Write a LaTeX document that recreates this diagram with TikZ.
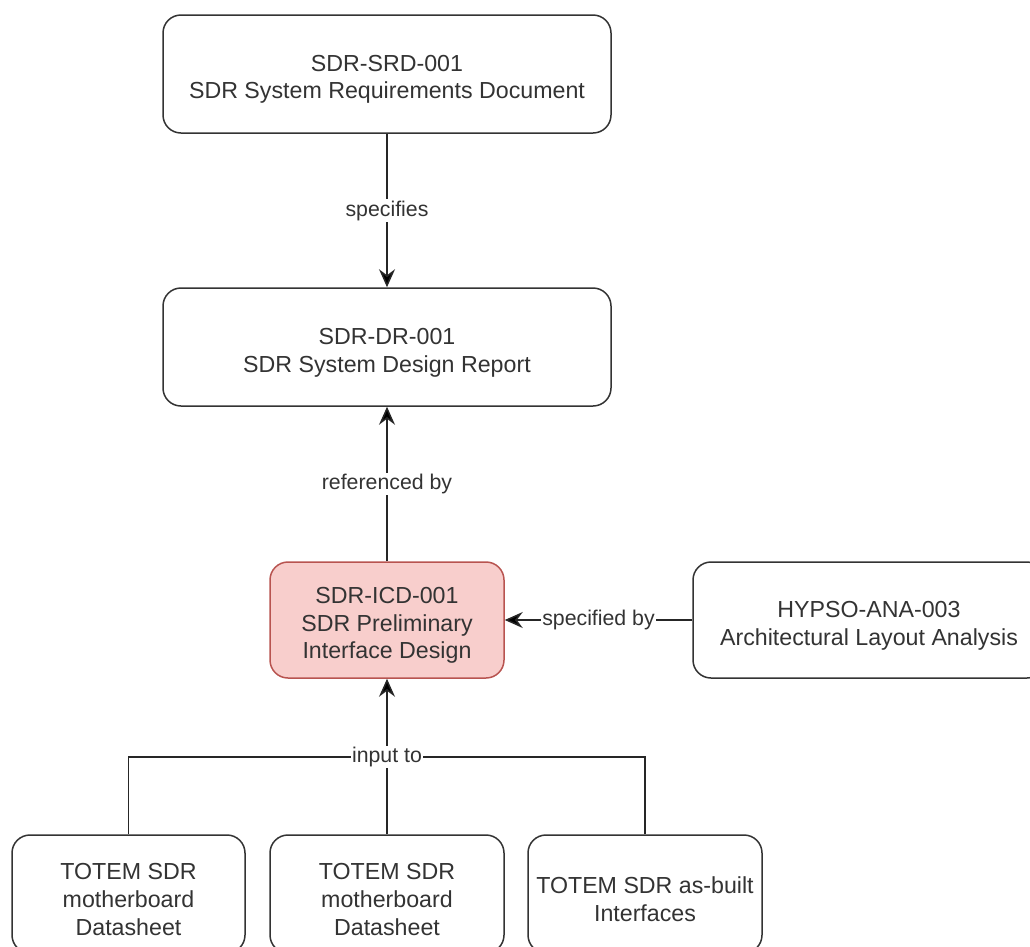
\documentclass[tikz,border=0pt]{standalone}
\usepackage{fontspec}
\setmainfont{Liberation Sans}
\usetikzlibrary{arrows.meta}
\definecolor{ink}{HTML}{333333}
\definecolor{pinkfill}{HTML}{F8CECC}
\definecolor{pinkline}{HTML}{B85450}
\newcommand{\topstrut}{\rule{0pt}{27pt}}
\tikzset{
  doc/.style={draw=ink, line width=1.5pt, rounded corners=18pt, fill=white,
    align=center, text=ink, inner sep=0pt,
    font=\fontsize{23.2pt}{27.8pt}\selectfont},
  hot/.style={doc, fill=pinkfill, draw=pinkline},
  link/.style={draw=black!85, line width=1.5pt,
    -{Stealth[length=18pt,width=16pt,inset=6pt,fill=black]}},
  plain/.style={draw=black!85, line width=1.5pt},
  lbl/.style={fill=white, text=ink, inner sep=1.5pt,
    font=\fontsize{21.3pt}{25pt}\selectfont}
}
\begin{document}
\begin{tikzpicture}[x=1pt,y=-1pt]
\useasboundingbox (0,0) rectangle (1030,946);
\clip (0,0) rectangle (1030,946);
\node[doc, minimum width=448pt, minimum height=118pt] (srd) at (387,74)
  {\topstrut SDR-SRD-001\\SDR System Requirements Document};
\node[doc, minimum width=448pt, minimum height=118pt] (dr) at (387,347)
  {\topstrut SDR-DR-001\\SDR System Design Report};
\node[hot, minimum width=234pt, minimum height=116pt] (icd) at (387,620)
  {\topstrut SDR-ICD-001\\SDR Preliminary\\Interface Design};
\node[doc, minimum width=352pt, minimum height=116pt] (hypso) at (869,620)
  {\topstrut HYPSO-ANA-003\\Architectural Layout Analysis};
\node[doc, minimum width=233pt, minimum height=118pt] (b1) at (128.5,894)
  {\topstrut TOTEM SDR\\motherboard\\Datasheet};
\node[doc, minimum width=234pt, minimum height=118pt] (b2) at (387,894)
  {\topstrut TOTEM SDR\\motherboard\\Datasheet};
\node[doc, minimum width=234pt, minimum height=118pt] (b3) at (645,894)
  {\topstrut TOTEM SDR as-built\\Interfaces};
\coordinate (j) at (387,757);

\draw[link] (srd) -- node[lbl] {specifies} (dr);
\draw[link] (icd) -- node[lbl] {referenced by} (dr);
\draw[link] (hypso) -- node[lbl] {specified by} (icd);
\draw[plain] (b1.north) |- (j);
\draw[plain] (b3.north) |- (j);
\draw[link] (b2.north) -- (icd.south);
\node[lbl] (inp) at (j) {input to};
\end{tikzpicture}
\end{document}
